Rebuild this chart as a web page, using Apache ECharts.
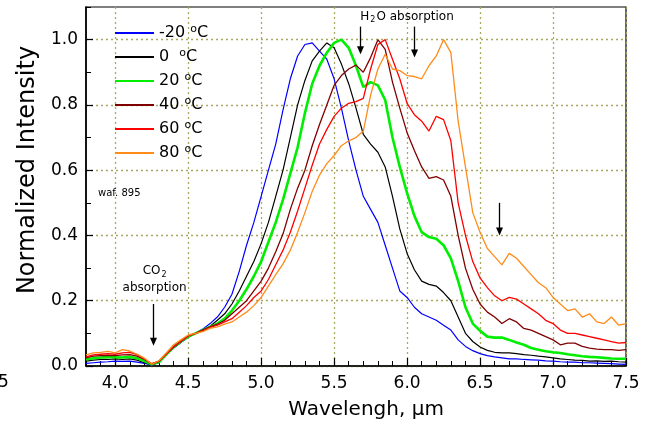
<!DOCTYPE html>
<html><head><meta charset="utf-8">
<script src="https://cdn.jsdelivr.net/npm/echarts@6/dist/echarts.min.js"></script>
<style>html,body{margin:0;padding:0;background:#fff}#c{width:659px;height:432px}</style>
</head><body><div id="c"></div>
<script>
const wavelengths = [3.80,3.85,3.90,3.95,4.00,4.05,4.10,4.15,4.20,4.25,4.30,4.35,4.40,4.45,4.50,4.55,4.60,4.65,4.70,4.75,4.80,4.85,4.90,4.95,5.00,5.05,5.10,5.15,5.20,5.25,5.30,5.35,5.40,5.45,5.50,5.55,5.60,5.65,5.70,5.75,5.80,5.85,5.90,5.95,6.00,6.05,6.10,6.15,6.20,6.25,6.30,6.35,6.40,6.45,6.50,6.55,6.60,6.65,6.70,6.75,6.80,6.85,6.90,6.95,7.00,7.05,7.10,7.15,7.20,7.25,7.30,7.35,7.40,7.45,7.50];

const tempM20 = [.008,.010,.012,.013,.015,.014,.015,.012,.008,.003,.010,.035,.055,.072,.088,
  .100,.113,.130,.150,.180,.220,.290,.370,.440,.520,
  .600,.680,.785,.880,.950,.985,.990,.965,.940,.880,
  .790,.690,.600,.520,.480,.440,.370,.300,.230,.210,
  .180,.160,.150,.140,.125,.110,.080,.060,.047,.038,
  .032,.028,.025,.022,.022,.020,.019,.018,.016,.015,
  .013,.012,.012,.010,.010,.009,.008,.007,.006,.005];
const temp0 = [.015,.018,.020,.020,.022,.020,.022,.018,.010,.004,.012,.035,.056,.073,.090,
  .100,.110,.122,.140,.160,.190,.230,.275,.320,.375,
  .440,.520,.600,.700,.800,.875,.935,.965,.990,.975,
  .925,.865,.790,.710,.680,.655,.610,.520,.420,.345,
  .295,.260,.250,.245,.225,.200,.150,.100,.075,.058,
  .048,.042,.040,.040,.038,.035,.033,.030,.028,.025,
  .022,.020,.018,.017,.015,.016,.014,.015,.013,.012];
const temp20 = [.020,.024,.026,.028,.027,.026,.028,.024,.015,.005,.012,.036,.058,.075,.090,
  .100,.110,.120,.130,.145,.170,.200,.235,.275,.320,
  .380,.440,.510,.590,.670,.775,.865,.920,.960,.990,
  1.00,.975,.920,.855,.870,.860,.815,.700,.610,.530,
  .460,.410,.395,.390,.370,.330,.260,.180,.130,.108,
  .090,.087,.087,.080,.072,.065,.055,.050,.045,.042,
  .040,.036,.033,.030,.028,.027,.025,.023,.022,.022];
const temp40 = [.025,.030,.032,.033,.032,.034,.035,.030,.020,.006,.014,.038,.058,.076,.092,
  .100,.110,.120,.128,.140,.160,.180,.200,.230,.260,
  .300,.350,.405,.480,.545,.600,.675,.740,.800,.860,
  .890,.910,.922,.900,.945,1.00,.970,.870,.790,.715,
  .660,.610,.575,.580,.570,.520,.400,.300,.235,.190,
  .165,.150,.130,.145,.135,.115,.110,.100,.090,.080,
  .065,.070,.070,.060,.055,.052,.050,.050,.048,.050];
const temp60 = [.028,.034,.036,.038,.036,.040,.042,.035,.022,.007,.015,.036,.060,.075,.092,
  .100,.108,.118,.125,.135,.145,.165,.185,.210,.230,
  .265,.310,.355,.410,.475,.545,.615,.680,.725,.765,
  .790,.805,.810,.820,.910,.985,1.00,.940,.880,.805,
  .770,.750,.720,.765,.755,.690,.500,.400,.320,.270,
  .240,.215,.200,.210,.205,.190,.175,.160,.140,.130,
  .110,.100,.100,.095,.090,.085,.080,.075,.070,.072];
const temp80 = [.034,.040,.042,.045,.040,.050,.046,.036,.024,.005,.016,.040,.065,.080,.095,
  .100,.105,.115,.120,.128,.135,.150,.165,.185,.210,
  .245,.280,.313,.355,.410,.470,.535,.585,.620,.645,
  .675,.690,.700,.720,.830,.910,.955,.910,.905,.890,
  .887,.880,.920,.950,1.00,.960,.750,.610,.470,.410,
  .360,.335,.310,.345,.330,.305,.280,.255,.240,.210,
  .190,.170,.175,.150,.160,.135,.130,.150,.125,.130];

const seriesNames = ['-20', '0', '20', '40', '60', '80'];
const seriesColors = ['#0000ff', '#000000', '#00ee00', '#800000', '#ff0000', '#ff8c1a'];
const seriesWidths = [1.2, 1.2, 2.6, 1.3, 1.3, 1.3];
const seriesValues = [tempM20, temp0, temp20, temp40, temp60, temp80];

const xMajorTicks = [4.0, 4.5, 5.0, 5.5, 6.0, 6.5, 7.0, 7.5];
const yMajorTicks = [0, 0.2, 0.4, 0.6, 0.8, 1.0];

// annotations in data units: [x, yStart, yEnd]
const arrowAnno = [[5.68, 1.04, 0.955], [6.05, 1.04, 0.945], [4.26, 0.19, 0.062], [6.63, 0.50, 0.40]];

const FONT = 'DejaVu Sans';
const chart = echarts.init(document.getElementById('c'), null, {renderer: 'canvas'});

const series = seriesNames.map((n, k) => ({
  name: n, type: 'line', symbol: 'none', showSymbol: false, animation: false,
  xAxisIndex: 0, yAxisIndex: 0,
  lineStyle: {color: seriesColors[k], width: seriesWidths[k]},
  itemStyle: {color: seriesColors[k]},
  data: wavelengths.map((x, i) => [x, seriesValues[k][i]])
}));

const gridLine = {show: true, lineStyle: {color: '#a8a860', type: [2, 3], width: 1.3}};

chart.setOption({
  animation: false,
  backgroundColor: '#fff',
  grid: {left: 86, right: 33, top: 7, bottom: 66, show: true, borderColor: '#000', borderWidth: 1.2, containLabel: false},
  legend: {
    orient: 'vertical', left: 110, top: 19, itemWidth: 39, itemHeight: 2, itemGap: 6,
    icon: 'rect',
    data: seriesNames.map((n, k) => ({name: n, itemStyle: {color: seriesColors[k]}})),
    formatter: n => '{t|' + n + (n === '0' ? '  ' : ' ') + '}{s|o}{t|C}',
    textStyle: {
      color: '#000', fontFamily: FONT, fontSize: 16,
      rich: {
        t: {fontSize: 16, fontFamily: FONT, color: '#000', lineHeight: 18},
        s: {fontSize: 11, fontFamily: FONT, color: '#000', lineHeight: 18, verticalAlign: 'top', padding: [0, 0, 7, 0]}
      }
    }
  },
  xAxis: [{
    type: 'value', min: 3.8, max: 7.5, interval: 0.1,
    axisLine: {show: true, onZero: false, lineStyle: {color: '#000', width: 1.6}},
    axisTick: {show: true, inside: true, length: 8, customValues: xMajorTicks, lineStyle: {color: '#000', width: 1.2}},
    axisLabel: {customValues: xMajorTicks, formatter: v => v.toFixed(1), fontSize: 17, color: '#000', margin: 9, fontFamily: FONT},
    splitLine: gridLine,
    name: 'Wavelengh, \u00b5m', nameLocation: 'middle', nameGap: 34,
    nameTextStyle: {fontSize: 20, color: '#000', fontFamily: FONT, padding: [0, 0, 0, 20]}
  }, {
    type: 'value', min: 3.8, max: 7.5, interval: 0.1, position: 'bottom', gridIndex: 0, offset: 0,
    axisLine: {show: false}, axisLabel: {show: false}, splitLine: {show: false},
    axisTick: {show: true, inside: true, length: 5, lineStyle: {color: '#000', width: 1}}
  }],
  yAxis: [{
    type: 'value', min: 0, max: 1.1, interval: 0.1,
    axisLine: {show: true, onZero: false, lineStyle: {color: '#000', width: 1.6}},
    axisTick: {show: true, inside: true, length: 7, customValues: yMajorTicks, lineStyle: {color: '#000', width: 1.2}},
    axisLabel: {customValues: yMajorTicks, formatter: v => v.toFixed(1), fontSize: 17, color: '#000', margin: 8, fontFamily: FONT},
    splitLine: gridLine,
    name: 'Normalized Intensity', nameLocation: 'middle', nameGap: 46,
    nameTextStyle: {fontSize: 24, color: '#000', fontFamily: FONT, padding: [0, 0, 0, 33]}
  }, {
    type: 'value', min: 0, max: 1.1, interval: 0.1, position: 'left', gridIndex: 0, offset: 0,
    axisLine: {show: false}, axisLabel: {show: false}, splitLine: {show: false},
    axisTick: {show: true, inside: true, length: 5, lineStyle: {color: '#000', width: 1}}
  }],
  series: series
});

function px(x, y) { return chart.convertToPixel({gridIndex: 0}, [x, y]); }
const graphics = [];
arrowAnno.forEach(a => {
  const p1 = px(a[0], a[1]), p2 = px(a[0], a[2]);
  const x = Math.round(p1[0]) + 0.5;
  graphics.push({type: 'line', silent: true, z: 50, shape: {x1: x, y1: p1[1], x2: x, y2: p2[1] - 6}, style: {stroke: '#000', lineWidth: 1.3}});
  graphics.push({type: 'polygon', silent: true, z: 50, shape: {points: [[x - 3.5, p2[1] - 8], [x + 3.5, p2[1] - 8], [x, p2[1]]]}, style: {fill: '#000'}});
});
const h2o = px(6.0, 1.06), co2 = px(4.27, 0.29), waf = px(3.88, 0.53);
graphics.push({type: 'text', silent: true, z: 50, x: h2o[0], y: 17, style: {
  text: '{n|H}{b|2}{n|O absorption}', align: 'center', verticalAlign: 'middle',
  rich: {n: {fontSize: 12, fontFamily: FONT, fill: '#000'}, b: {fontSize: 8, fontFamily: FONT, fill: '#000', verticalAlign: 'bottom', padding: [6, 1, 0, 1]}}}});
graphics.push({type: 'text', silent: true, z: 50, x: co2[0], y: co2[1], style: {
  text: '{n|CO}{b|2}', align: 'center', verticalAlign: 'middle',
  rich: {n: {fontSize: 12, fontFamily: FONT, fill: '#000'}, b: {fontSize: 8, fontFamily: FONT, fill: '#000', padding: [7, 0, 0, 1]}}}});
graphics.push({type: 'text', silent: true, z: 50, x: co2[0], y: co2[1] + 17, style: {
  text: 'absorption', align: 'center', verticalAlign: 'middle', font: '12px "DejaVu Sans"', fill: '#000'}});
graphics.push({type: 'text', silent: true, z: 50, x: 98, y: waf[1], style: {
  text: 'waf. 895', align: 'left', verticalAlign: 'middle', font: '10px "DejaVu Sans"', fill: '#000'}});
graphics.push({type: 'text', silent: true, z: 50, x: -2, y: 383, style: {
  text: '5', align: 'left', verticalAlign: 'middle', font: '17px "DejaVu Sans"', fill: '#000'}});
chart.setOption({graphic: graphics});
</script>
</body></html>
